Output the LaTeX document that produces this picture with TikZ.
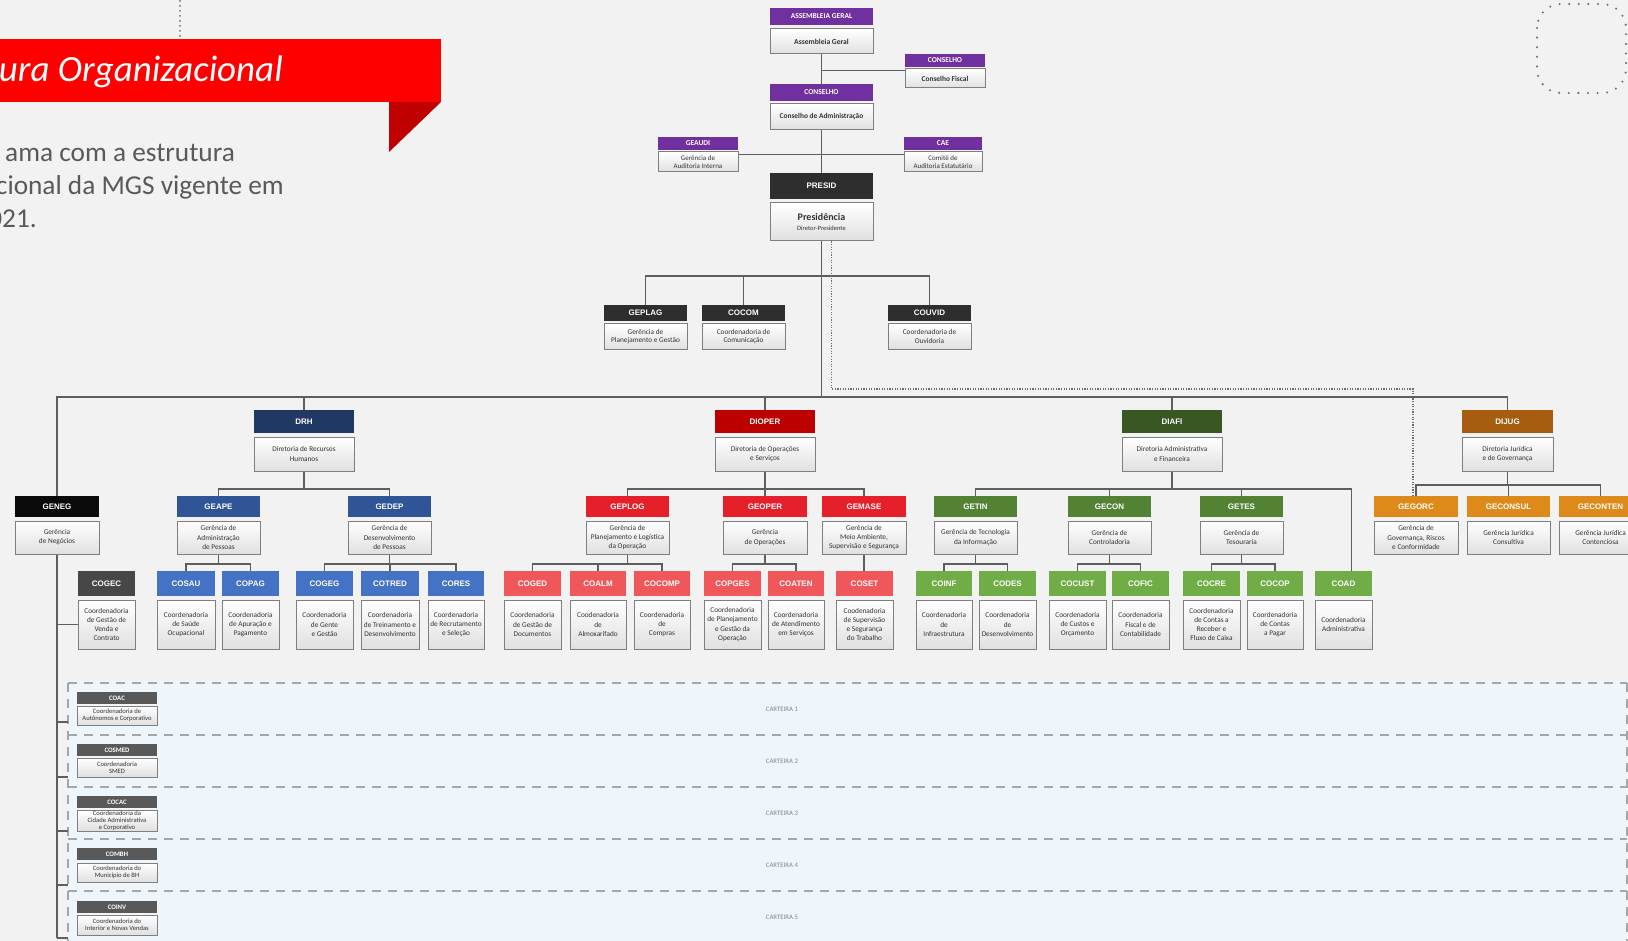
\documentclass[tikz,border=0pt]{standalone}
\usepackage{fontspec}
\setmainfont{Carlito}
\newfontfamily\hfont{Liberation Sans}
\usetikzlibrary{calc}

\definecolor{pagebg}{HTML}{F2F2F2}
\definecolor{bandbg}{HTML}{EEF5FB}
\definecolor{linkc}{HTML}{5E5E5E}
\definecolor{dotc}{HTML}{6F6F6F}
\definecolor{dashc}{HTML}{A6A6A6}
\definecolor{boxline}{HTML}{7F7F7F}
\definecolor{boxshade}{HTML}{E0E0E0}
\definecolor{bodytxt}{HTML}{333333}
\definecolor{purp}{HTML}{7030A0}
\definecolor{darkhd}{HTML}{2E2E2E}
\definecolor{cgeneg}{HTML}{0A0A0A}
\definecolor{ccogec}{HTML}{474747}
\definecolor{cdrh}{HTML}{203864}
\definecolor{cgeape}{HTML}{2F5597}
\definecolor{ccosau}{HTML}{4472C4}
\definecolor{cdioper}{HTML}{BC0000}
\definecolor{cgeplog}{HTML}{E5202A}
\definecolor{ccoged}{HTML}{F0575A}
\definecolor{cdiafi}{HTML}{385723}
\definecolor{cgetin}{HTML}{548235}
\definecolor{ccoinf}{HTML}{70AD47}
\definecolor{cdijug}{HTML}{A65D10}
\definecolor{cgegorc}{HTML}{DD8A1B}
\definecolor{ccart}{HTML}{595959}
\definecolor{bannerred}{HTML}{FF0000}
\definecolor{bannerdark}{HTML}{C00000}
\definecolor{subtxt}{HTML}{595959}
\definecolor{cartlab}{HTML}{858585}

\tikzset{
  hdr/.style={inner sep=0pt, text=white, font=\hfont\bfseries\fontsize{8}{9}\selectfont},
  bx/.style={draw=boxline, line width=1pt, top color=white, bottom color=boxshade,
    inner sep=0.3pt, align=center, text=bodytxt, font=\fontsize{7.5}{9.3}\selectfont},
  link/.style={draw=linkc, line width=1.2pt},
  dotlink/.style={draw=dotc, line width=1.1pt, dash pattern=on 1.1pt off 1.5pt},
  bandline/.style={draw=dashc, line width=1.2pt, dash pattern=on 9pt off 7pt},
  cartlabel/.style={text=cartlab, inner sep=0pt, font=\fontsize{6.8}{7}\selectfont},
  purphdr/.style={hdr, fill=purp, font=\bfseries\fontsize{7.5}{8}\selectfont},
  subline/.style={anchor=base east, inner sep=0pt, text=subtxt, font=\fontsize{27.3}{32}\selectfont},
}

% header bar + body box of one unit, placed on the current row
\newcommand\orgunit[6]{%
  \node[hdr, fill=#4, minimum width=#3, minimum height=\rowhh] (#1-h) at (#2,\rowhy) {#5};
  \node[bx, minimum width=#3, minimum height=\rowbh] (#1) at (#2,\rowby) {#6};}

% small unit of the portfolio bands
\newcommand\cartunit[6]{%
  \node[hdr, fill=ccart, font=\bfseries\fontsize{6.8}{7}\selectfont,
        minimum width=80, minimum height=12] (#1-h) at (117,#2) {#5};
  \node[bx, font=\fontsize{6.6}{6.9}\selectfont, minimum width=80, minimum height=#4] (#1) at (117,#3) {#6};}

\begin{document}
\begin{tikzpicture}[x=1pt,y=-1pt]
\useasboundingbox (0,0) rectangle (1628,941);
\clip (0,0) rectangle (1628,941);
\fill[pagebg] (0,0) rectangle (1628,941);

% decorative dots
\draw[dotc, line width=2pt, line cap=round, dash pattern=on 0pt off 5pt] (180,1) -- (180,38);
\draw[dotc, line width=2.3pt, line cap=round, dash pattern=on 0pt off 9.6pt, rounded corners=24pt]
  (1537,4) rectangle (1626,93);

% title banner
\fill[bannerred] (0,39) rectangle (441,102);
\fill[bannerdark] (389,102) -- (441,102) -- (389,152) -- cycle;
\node[anchor=base east, inner sep=0pt, text=white, font=\itshape\fontsize{37}{42}\selectfont] (title) at (283,82) {ura Organizacional};
\node[subline] (sub1) at (235,162) {ama com a estrutura};
\node[subline] (sub2) at (284,195) {cional da MGS vigente em};
\node[subline] (sub3) at (37,228) {021.};

% portfolio bands
\fill[bandbg] (68,683) rectangle (1628,941);
\foreach \yy in {683,735,787,839,891} \draw[bandline] (68,\yy) -- (1627,\yy);
\draw[bandline] (68,683) -- (68,941);
\draw[bandline] (1627,683) -- (1627,941);
\node[cartlabel] (cartlab1) at (782,709) {CARTEIRA 1};
\node[cartlabel] (cartlab2) at (782,761) {CARTEIRA 2};
\node[cartlabel] (cartlab3) at (782,813) {CARTEIRA 3};
\node[cartlabel] (cartlab4) at (782,865) {CARTEIRA 4};
\node[cartlabel] (cartlab5) at (782,917) {CARTEIRA 5};

% governance
\node[purphdr, minimum width=103, minimum height=17] (ag-h) at (821.5,16.5) {ASSEMBLEIA GERAL};
\node[bx, font=\bfseries\fontsize{7.6}{9}\selectfont, minimum width=103, minimum height=25] (ag) at (821.5,41.5) {Assembleia Geral};
\node[purphdr, minimum width=80, minimum height=13] (cf-h) at (945,60.5) {CONSELHO};
\node[bx, font=\bfseries\fontsize{7.4}{9}\selectfont, minimum width=80, minimum height=19] (cf) at (945,78.5) {Conselho Fiscal};
\node[purphdr, minimum width=103, minimum height=17] (ca-h) at (821.5,92.5) {CONSELHO};
\node[bx, font=\bfseries\fontsize{7.4}{9}\selectfont, minimum width=103, minimum height=26] (ca) at (821.5,117) {Conselho de Administração};
\node[purphdr, minimum width=80, minimum height=13] (geaudi-h) at (698,143.5) {GEAUDI};
\node[bx, font=\fontsize{7}{7.3}\selectfont, minimum width=80, minimum height=20] (geaudi) at (698,162) {Gerência de\\Auditoria Interna};
\node[purphdr, minimum width=78, minimum height=13] (cae-h) at (943,143.5) {CAE};
\node[bx, font=\fontsize{7}{7.3}\selectfont, minimum width=78, minimum height=20] (cae) at (943,162) {Comitê de\\Auditoria Estatutário};
\node[hdr, fill=darkhd, minimum width=103, minimum height=26] (presid-h) at (821.5,186) {PRESID};
\node[bx, minimum width=103, minimum height=38] (presid) at (821.5,222)
  {{\bfseries\fontsize{10}{10}\selectfont Presidência}\\{\fontsize{6.5}{7}\selectfont Diretor-Presidente}};

% units reporting to the presidency
\def\rowhy{313}\def\rowhh{16}\def\rowby{336.5}\def\rowbh{25}
\tikzset{bx/.append style={font=\fontsize{7.3}{8.3}\selectfont}}
\orgunit{geplag}{645.5}{83}{darkhd}{GEPLAG}{Gerência de\\Planejamento e Gestão}
\orgunit{cocom}{743.5}{83}{darkhd}{COCOM}{Coordenadoria de\\Comunicação}
\orgunit{couvid}{929.5}{83}{darkhd}{COUVID}{Coordenadoria de\\Ouvidoria}
\tikzset{bx/.append style={font=\fontsize{7.3}{9.2}\selectfont}}

% directorates
\def\rowhy{421.5}\def\rowhh{23}\def\rowby{454}\def\rowbh{34}
\orgunit{drh}{304}{100}{cdrh}{DRH}{Diretoria de Recursos\\Humanos}
\orgunit{dioper}{765}{100}{cdioper}{DIOPER}{Diretoria de Operações\\e Serviços}
\orgunit{diafi}{1172}{100}{cdiafi}{DIAFI}{Diretoria Administrativa\\e Financeira}
\orgunit{dijug}{1507.5}{91}{cdijug}{DIJUG}{Diretoria Jurídica\\e de Governança}

% managements
\def\rowhy{506.5}\def\rowhh{21}\def\rowby{537.5}\def\rowbh{33}
\orgunit{geneg}{57}{84}{cgeneg}{GENEG}{Gerência\\de Negócios}
\orgunit{geape}{218.5}{83}{cgeape}{GEAPE}{Gerência de\\Administração\\de Pessoas}
\orgunit{gedep}{389.5}{83}{cgeape}{GEDEP}{Gerência de\\Desenvolvimento\\de Pessoas}
\orgunit{geplog}{627.5}{83}{cgeplog}{GEPLOG}{Gerência de\\Planejamento e Logística\\da Operação}
\orgunit{geoper}{765}{84}{cgeplog}{GEOPER}{Gerência\\de Operações}
\orgunit{gemase}{864}{84}{cgeplog}{GEMASE}{Gerência de\\Meio Ambiente,\\Supervisão e Segurança}
\orgunit{getin}{975.5}{83}{cgetin}{GETIN}{Gerência de Tecnologia\\da Informação}
\orgunit{gecon}{1109.5}{83}{cgetin}{GECON}{Gerência de\\Controladoria}
\orgunit{getes}{1241.5}{83}{cgetin}{GETES}{Gerência de\\Tesouraria}
\orgunit{gegorc}{1416}{84}{cgegorc}{GEGORC}{Gerência de\\Governança, Riscos\\e Conformidade}
\orgunit{geconsul}{1508.5}{83}{cgegorc}{GECONSUL}{Gerência Jurídica\\Consultiva}
\orgunit{geconten}{1600.5}{83}{cgegorc}{GECONTEN}{Gerência Jurídica\\Contenciosa}

% coordinations
\def\rowhy{583.5}\def\rowhh{25}\def\rowby{624.5}\def\rowbh{49}
\orgunit{cogec}{106.5}{57}{ccogec}{COGEC}{Coordenadoria\\de Gestão de\\Venda e\\Contrato}
\orgunit{cosau}{186}{58}{ccosau}{COSAU}{Coordenadoria\\de Saúde\\Ocupacional}
\orgunit{copag}{250.5}{57}{ccosau}{COPAG}{Coordenadoria\\de Apuração e\\Pagamento}
\orgunit{cogeg}{324.5}{57}{ccosau}{COGEG}{Coordenadoria\\de Gente\\e Gestão}
\orgunit{cotred}{390}{58}{ccosau}{COTRED}{Coordenadoria\\de Treinamento e\\Desenvolvimento}
\orgunit{cores}{456}{56}{ccosau}{CORES}{Coordenadoria\\de Recrutamento\\e Seleção}
\orgunit{coged}{532.5}{57}{ccoged}{COGED}{Coordenadoria\\de Gestão de\\Documentos}
\orgunit{coalm}{598}{56}{ccoged}{COALM}{Coodenadoria\\de\\Almoxarifado}
\orgunit{cocomp}{662}{56}{ccoged}{COCOMP}{Coordenadoria\\de\\Compras}
\orgunit{copges}{732.5}{57}{ccoged}{COPGES}{Coordenadoria\\de Planejamento\\e Gestão da\\Operação}
\orgunit{coaten}{796}{56}{ccoged}{COATEN}{Coordenadoria\\de Atendimento\\em Serviços}
\orgunit{coset}{864.5}{57}{ccoged}{COSET}{Coodenadoria\\de Supervisão\\e Segurança\\do Trabalho}
\orgunit{coinf}{944}{56}{ccoinf}{COINF}{Coordenadoria\\de\\Infraestrutura}
\orgunit{codes}{1007.5}{57}{ccoinf}{CODES}{Coordenadoria\\de\\Desenvolvimento}
\orgunit{cocust}{1077.5}{57}{ccoinf}{COCUST}{Coordenadoria\\de Custos e\\Orçamento}
\orgunit{cofic}{1140.5}{57}{ccoinf}{COFIC}{Coordenadoria\\Fiscal e de\\Contabilidade}
\orgunit{cocre}{1211.5}{57}{ccoinf}{COCRE}{Coordenadoria\\de Contas a\\Receber e\\Fluxo de Caixa}
\orgunit{cocop}{1275}{56}{ccoinf}{COCOP}{Coordenadoria\\de Contas\\a Pagar}
\orgunit{coad}{1343.5}{57}{ccoinf}{COAD}{Coordenadoria\\Administrativa}

% portfolio coordinations
\cartunit{coac}{698}{715.5}{19}{COAC}{Coordenadoria de\\Autônomos e Corporativo}
\cartunit{cosmed}{750}{767.5}{19}{COSMED}{Coordenadoria\\SMED}
\cartunit{cocac}{802}{820.5}{21}{COCAC}{Coordenadoria da\\Cidade Administrativa\\e Corporativo}
\cartunit{combh}{854}{872.5}{19}{COMBH}{Coordenadoria do\\Município de BH}
\cartunit{coinv}{907}{925}{20}{COINV}{Coordenadoria do\\Interior e Novas Vendas}

% ---- connectors ----
\coordinate (bus2) at (0,276);
\coordinate (busY) at (0,397);
\coordinate (dotY) at (0,389);
\coordinate (dirbus) at (0,489);
\coordinate (jbus) at (0,485);
\coordinate (mbus) at (0,564);
\coordinate (cart1) at (68,722);
\coordinate (cart2) at (68,777);
\coordinate (cart3) at (68,831);
\coordinate (cart4) at (68,885);
\coordinate (cart5) at (68,938);

\draw[link] (ag.south) -- (ca-h.north);
\draw[link] ([yshift=-2pt]cf.north west) -- ([yshift=-2pt]cf.north west -| ag.south);
\draw[link] (ca.south) -- (presid-h.north);
\draw[link] ([yshift=-3pt]geaudi.north east) -- ([yshift=-3pt]cae.north west);

\draw[link] (presid.south) -- (presid.south |- busY);
\draw[link] (geplag-h.north) |- (couvid-h.north |- bus2) -- (couvid-h.north);
\draw[link] (cocom-h.north) -- (cocom-h.north |- bus2);
\draw[dotlink] ([xshift=10pt]presid.south) |- ([xshift=-3pt]gegorc-h.north |- dotY) -- ([xshift=-3pt]gegorc-h.north);

\draw[link] (dijug-h.north) |- (geneg-h.north |- busY) -- (geneg-h.north);
\draw[link] (drh-h.north) -- (drh-h.north |- busY);
\draw[link] (dioper-h.north) -- (dioper-h.north |- busY);
\draw[link] (diafi-h.north) -- (diafi-h.north |- busY);

\draw[link] (drh.south) -- (drh.south |- dirbus);
\draw[link] (geape-h.north) |- (gedep-h.north |- dirbus) -- (gedep-h.north);
\draw[link] (dioper.south) -- (dioper.south |- dirbus);
\draw[link] (geplog-h.north) |- (gemase-h.north |- dirbus) -- (gemase-h.north);
\draw[link] (geoper-h.north) -- (geoper-h.north |- dirbus);
\draw[link] (diafi.south) -- (diafi.south |- dirbus);
\draw[link] (getin-h.north) |- ([xshift=8pt]coad-h.north |- dirbus) -- ([xshift=8pt]coad-h.north);
\draw[link] (gecon-h.north) -- (gecon-h.north |- dirbus);
\draw[link] (getes-h.north) -- (getes-h.north |- dirbus);
\draw[link] (dijug.south) -- (dijug.south |- jbus);
\draw[link] (gegorc-h.north) |- (geconten-h.north |- jbus) -- (geconten-h.north);
\draw[link] (geconsul-h.north) -- (geconsul-h.north |- jbus);

\draw[link] (geape.south) -- (geape.south |- mbus);
\draw[link] (cosau-h.north) |- (copag-h.north |- mbus) -- (copag-h.north);
\draw[link] (gedep.south) -- (gedep.south |- mbus);
\draw[link] (cogeg-h.north) |- (cores-h.north |- mbus) -- (cores-h.north);
\draw[link] (cotred-h.north) -- (cotred-h.north |- mbus);
\draw[link] (geplog.south) -- (geplog.south |- mbus);
\draw[link] (coged-h.north) |- (cocomp-h.north |- mbus) -- (cocomp-h.north);
\draw[link] (coalm-h.north) -- (coalm-h.north |- mbus);
\draw[link] (geoper.south) -- (geoper.south |- mbus);
\draw[link] (copges-h.north) |- (coaten-h.north |- mbus) -- (coaten-h.north);
\draw[link] (gemase.south) -- (gemase.south |- coset-h.north);
\draw[link] (getin.south) -- (getin.south |- mbus);
\draw[link] (coinf-h.north) |- (codes-h.north |- mbus) -- (codes-h.north);
\draw[link] (gecon.south) -- (gecon.south |- mbus);
\draw[link] (cocust-h.north) |- (cofic-h.north |- mbus) -- (cofic-h.north);
\draw[link] (getes.south) -- (getes.south |- mbus);
\draw[link] (cocre-h.north) |- (cocop-h.north |- mbus) -- (cocop-h.north);

% business spine
\draw[link] (geneg.south) -- (geneg.south |- cart5);
\draw[link] (cogec.west) -- (cogec.west -| geneg.south);
\foreach \c in {cart1,cart2,cart3,cart4,cart5}
  \draw[link] (\c) -- (\c -| geneg.south);
\end{tikzpicture}
\end{document}
